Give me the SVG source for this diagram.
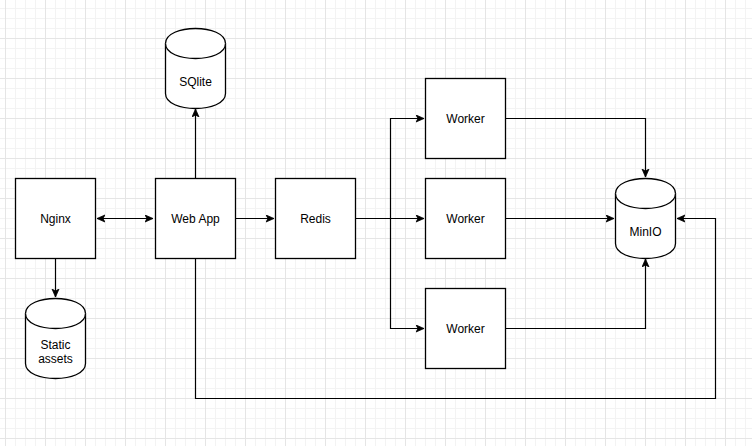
<svg xmlns="http://www.w3.org/2000/svg" width="752" height="446" viewBox="0 0 752 446">
<style>
.box{fill:#fff;stroke:#000;stroke-width:1.3}
.cyl{fill:#fff;stroke:#000;stroke-width:1.3}
.lbl{font-family:"Liberation Sans",Arial,sans-serif;font-size:12px;fill:#000;text-anchor:middle;dominant-baseline:central}
.edge{fill:none;stroke:#000;stroke-width:1.2}
</style>
<defs>
<pattern id="minor" x="5" y="-2" width="10" height="10" patternUnits="userSpaceOnUse">
<path d="M0.5 0V10M0 0.5H10" stroke="#f3f3f3" stroke-width="1" fill="none"/>
</pattern>
<pattern id="major" x="5" y="-2" width="40" height="40" patternUnits="userSpaceOnUse">
<path d="M0.5 0V40M0 0.5H40" stroke="#e5e5e5" stroke-width="1" fill="none"/>
</pattern>
<marker id="arr" markerUnits="userSpaceOnUse" markerWidth="10" markerHeight="10" refX="8" refY="4" orient="auto-start-reverse" viewBox="0 0 10 10">
<path d="M0,0.5 L8,4 L0,7.5 L2,4 Z" fill="#000" stroke="#000" stroke-width="0.8"/>
</marker>
</defs>
<rect width="752" height="446" fill="#fff"/>
<rect width="752" height="446" fill="url(#minor)"/>
<rect width="752" height="446" fill="url(#major)"/>

<g id="connectors">
<path class="edge" d="M97 218.5H153" marker-start="url(#arr)" marker-end="url(#arr)"/>
<path class="edge" d="M235.5 218.5H274" marker-end="url(#arr)"/>
<path class="edge" d="M55.5 258.5V297" marker-end="url(#arr)"/>
<path class="edge" d="M195.5 178V109" marker-end="url(#arr)"/>
<path class="edge" d="M355.5 218.5H424" marker-end="url(#arr)"/>
<path class="edge" d="M390.5 218.5V118.5H424" marker-end="url(#arr)"/>
<path class="edge" d="M390.5 218.5V328.5H424" marker-end="url(#arr)"/>
<path class="edge" d="M505.5 118.5H645.5V177" marker-end="url(#arr)"/>
<path class="edge" d="M505.5 218.5H614" marker-end="url(#arr)"/>
<path class="edge" d="M505.5 328.5H645.5V259" marker-end="url(#arr)"/>
<path class="edge" d="M195.5 258.5V398.5H715.5V218.5H677" marker-end="url(#arr)"/>
</g>

<g id="nginx">
<rect class="box" x="15.5" y="178.5" width="80" height="80"/>
<text class="lbl" x="55.5" y="218.5">Nginx</text>
</g>
<g id="webapp">
<rect class="box" x="155.5" y="178.5" width="80" height="80"/>
<text class="lbl" x="195.5" y="218.5">Web App</text>
</g>
<g id="redis">
<rect class="box" x="275.5" y="178.5" width="80" height="80"/>
<text class="lbl" x="315.5" y="218.5">Redis</text>
</g>
<g id="worker1">
<rect class="box" x="425.5" y="78.5" width="80" height="80"/>
<text class="lbl" x="465.5" y="118.5">Worker</text>
</g>
<g id="worker2">
<rect class="box" x="425.5" y="178.5" width="80" height="80"/>
<text class="lbl" x="465.5" y="218.5">Worker</text>
</g>
<g id="worker3">
<rect class="box" x="425.5" y="288.5" width="80" height="80"/>
<text class="lbl" x="465.5" y="328.5">Worker</text>
</g>
<g id="sqlite" transform="translate(165.5 28.5)">
<path class="cyl" d="M0 15C0 -5 60 -5 60 15V65C60 85 0 85 0 65Z"/>
<path class="cyl" fill="none" d="M0 15C0 35 60 35 60 15"/>
<text class="lbl" x="30" y="53">SQlite</text>
</g>
<g id="static" transform="translate(25.5 298.5)">
<path class="cyl" d="M0 15C0 -5 60 -5 60 15V65C60 85 0 85 0 65Z"/>
<path class="cyl" fill="none" d="M0 15C0 35 60 35 60 15"/>
<text class="lbl" x="30" y="46.5">Static</text>
<text class="lbl" x="30" y="60.5">assets</text>
</g>
<g id="minio" transform="translate(615.5 178.5)">
<path class="cyl" d="M0 15C0 -5 60 -5 60 15V65C60 85 0 85 0 65Z"/>
<path class="cyl" fill="none" d="M0 15C0 35 60 35 60 15"/>
<text class="lbl" x="30" y="53">MinIO</text>
</g>
</svg>
